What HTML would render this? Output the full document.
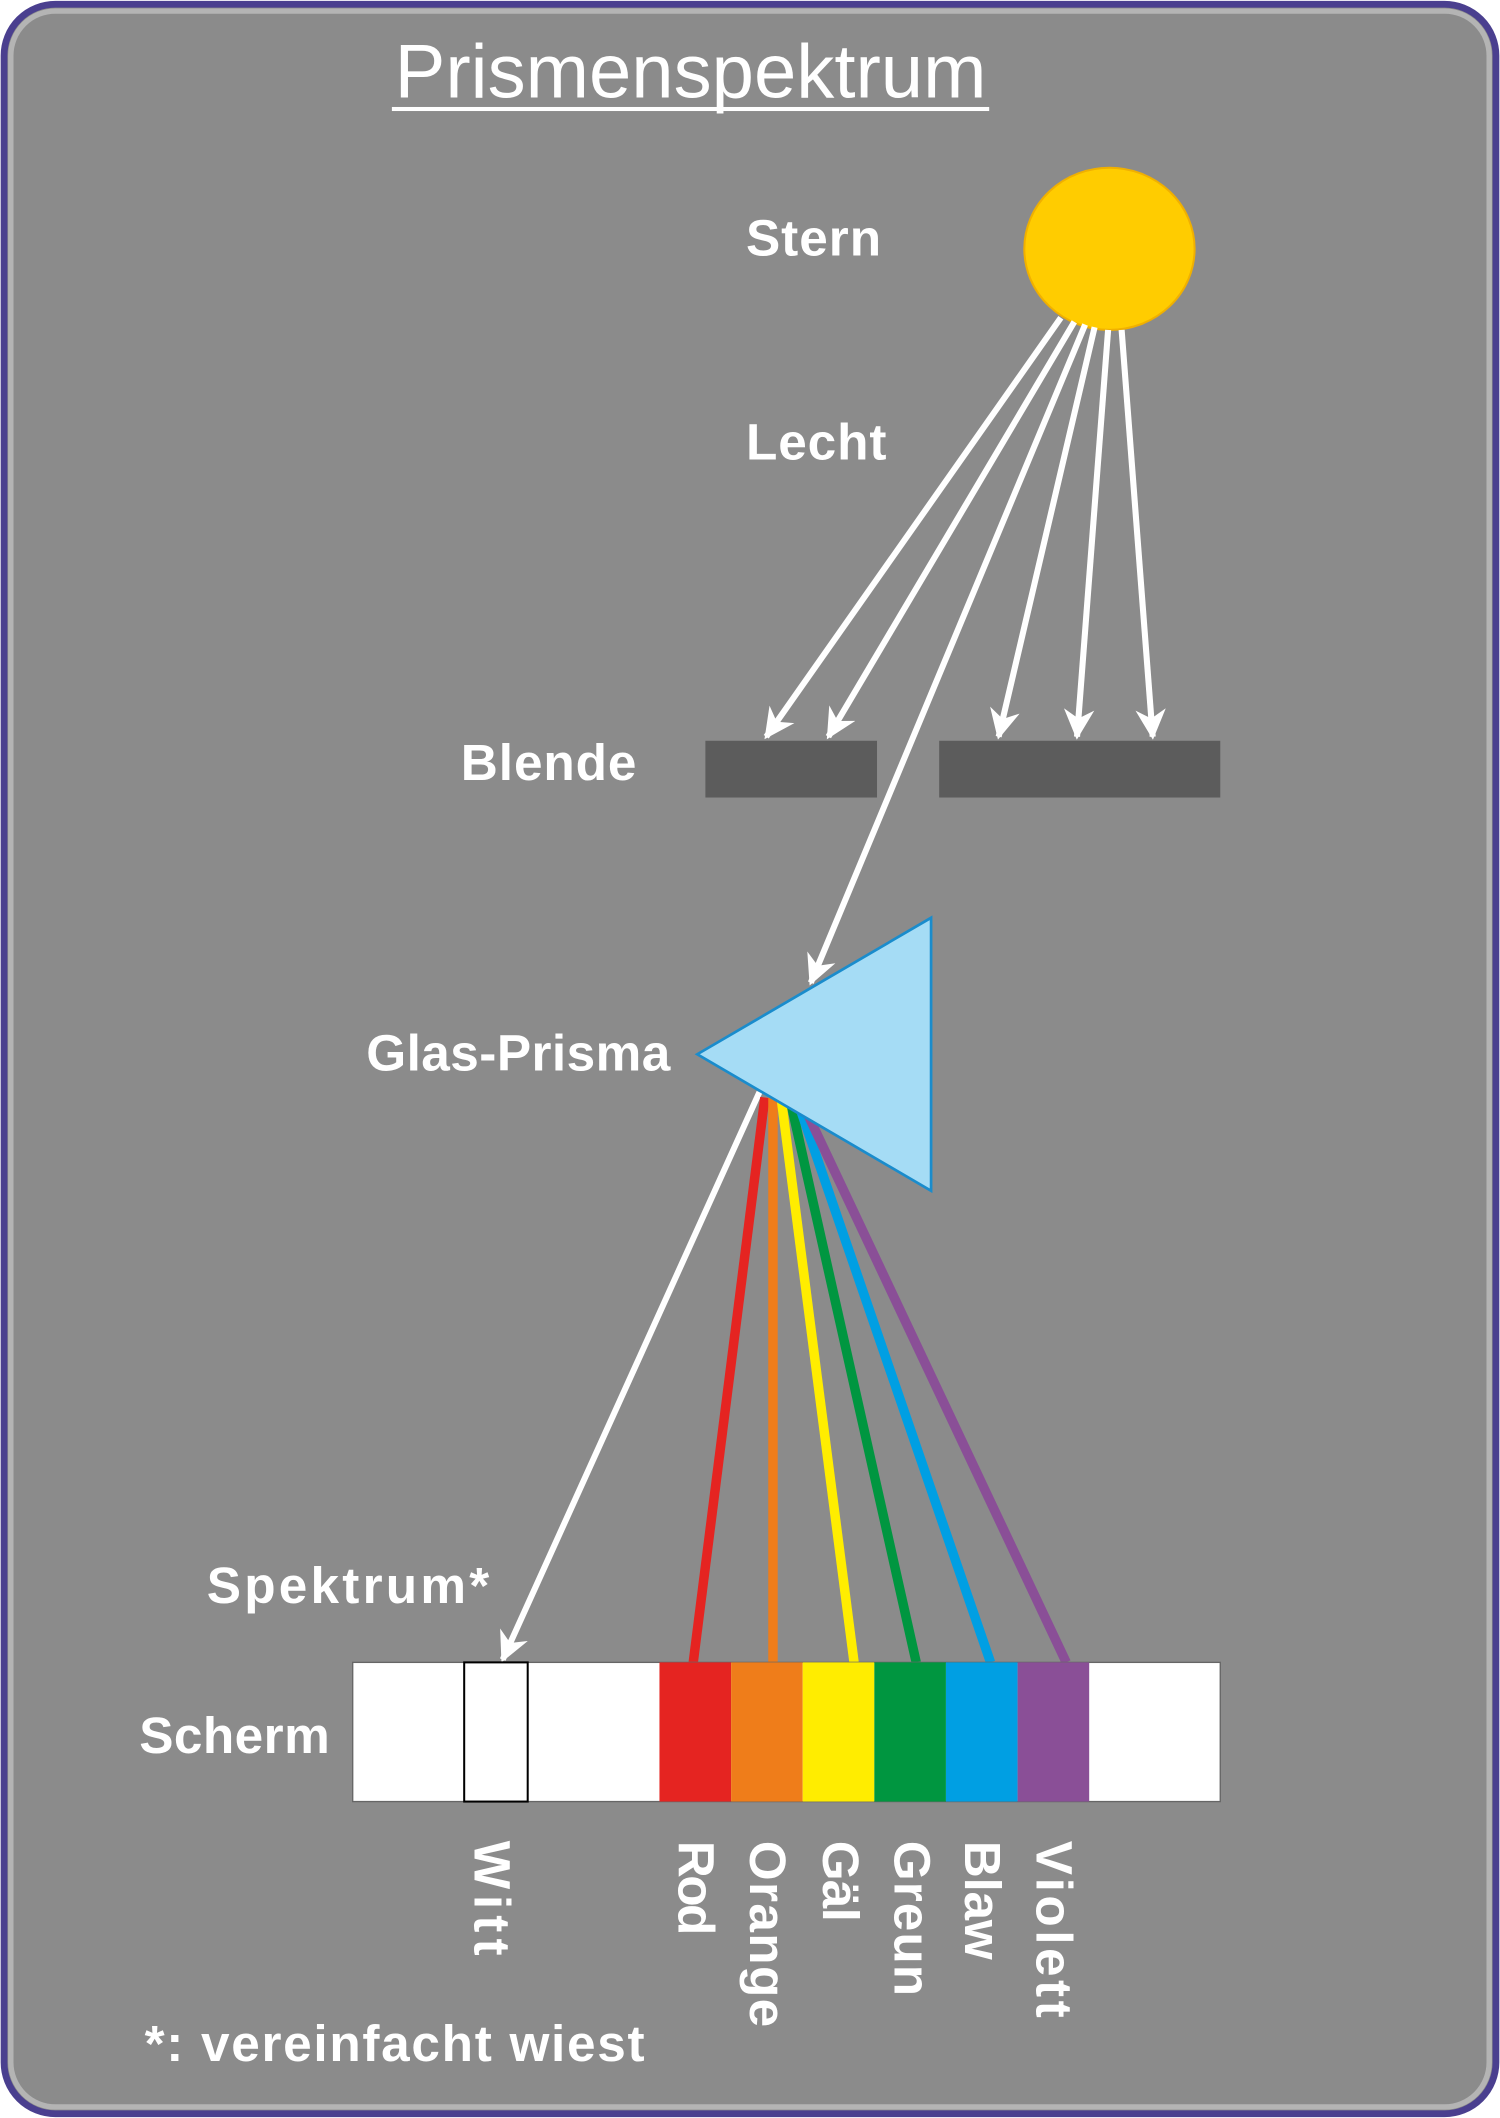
<!DOCTYPE html>
<html><head><meta charset="utf-8"><style>html,body{margin:0;padding:0;background:#fff}svg{display:block}</style></head><body>
<svg width="1500" height="2118" viewBox="0 0 1110 1567" xmlns="http://www.w3.org/2000/svg">
<defs>
<marker id="a" viewBox="0 0 10 10" refX="9" refY="5" markerWidth="5" markerHeight="5" orient="auto" markerUnits="strokeWidth">
<path d="M0,0 L10,5 L0,10 L3,5 z" fill="#fff"/></marker>
</defs>
<rect x="0" y="0" width="1110" height="1567" fill="#fff"/>
<rect x="3" y="3" width="1104" height="1561" rx="38" fill="#8b8b8b" stroke="#4a3f8f" stroke-width="5"/>
<rect x="8" y="8" width="1094" height="1551" rx="33" fill="none" stroke="#b4b4b4" stroke-width="4"/>
<g font-family="Liberation Sans, sans-serif" fill="#fff">
<text x="292" y="72" font-size="56" textLength="438" lengthAdjust="spacingAndGlyphs">Prismenspektrum</text>
<rect x="290" y="79" width="442" height="3"/>
<g font-weight="bold" font-size="38" lengthAdjust="spacingAndGlyphs">
<text x="552" y="189" textLength="100">Stern</text>
<text x="552" y="340" textLength="104">Lecht</text>
<text x="341" y="577" textLength="130">Blende</text>
<text x="271" y="792" textLength="225">Glas-Prisma</text>
<text x="153" y="1186" textLength="209">Spektrum*</text>
<text x="103" y="1297" textLength="141">Scherm</text>
<text x="107" y="1525" textLength="370">*: vereinfacht wiest</text>
</g>
</g>
<ellipse cx="821" cy="184" rx="63" ry="60" fill="#ffcc00" stroke="#f0b000" stroke-width="1.5"/>
<g stroke="#fff" stroke-width="4.5" fill="none" marker-end="url(#a)">
<line x1="785" y1="235" x2="567" y2="545"/>
<line x1="795" y1="238" x2="613" y2="545"/>
<line x1="803" y1="240" x2="600" y2="727"/>
<line x1="810" y1="242" x2="739" y2="545"/>
<line x1="820" y1="244" x2="797" y2="545"/>
<line x1="830" y1="244" x2="853" y2="545"/>
<line x1="562" y1="808" x2="372" y2="1228"/>
</g>
<rect x="522" y="548" width="127" height="42" fill="#5c5c5c"/>
<rect x="695" y="548" width="208" height="42" fill="#5c5c5c"/>
<g stroke-width="7">
<line x1="566" y1="812" x2="513" y2="1230" stroke="#e52421"/>
<line x1="572" y1="812" x2="572" y2="1230" stroke="#ef7d1a"/>
<line x1="578" y1="812" x2="632" y2="1230" stroke="#ffed00"/>
<line x1="585" y1="815" x2="678" y2="1230" stroke="#009640"/>
<line x1="592" y1="820" x2="733" y2="1230" stroke="#009fe3"/>
<line x1="598" y1="825" x2="789" y2="1230" stroke="#8a4f97"/>
</g>
<polygon points="516,780 689,679 689,881" fill="#a5dcf5" stroke="#1a8ccc" stroke-width="2"/>
<rect x="261" y="1230" width="642" height="103" fill="#fff" stroke="#666" stroke-width="1"/>
<rect x="343.5" y="1230" width="47" height="103" fill="#fff" stroke="#000" stroke-width="1.5"/>
<rect x="488" y="1230" width="53" height="103" fill="#e52421"/>
<rect x="541" y="1230" width="53" height="103" fill="#ef7d1a"/>
<rect x="594" y="1230" width="53" height="103" fill="#ffed00"/>
<rect x="647" y="1230" width="53" height="103" fill="#009640"/>
<rect x="700" y="1230" width="53" height="103" fill="#009fe3"/>
<rect x="753" y="1230" width="53" height="103" fill="#8a4f97"/>
<g font-family="Liberation Sans, sans-serif" font-weight="bold" font-size="38" fill="#fff" lengthAdjust="spacingAndGlyphs">
<text transform="translate(351,1362) rotate(90)" textLength="85">Witt</text>
<text transform="translate(502,1362) rotate(90)" textLength="70">Rod</text>
<text transform="translate(555,1362) rotate(90)" textLength="138">Orange</text>
<text transform="translate(609,1362) rotate(90)" textLength="60">Gäl</text>
<text transform="translate(662,1362) rotate(90)" textLength="115">Greun</text>
<text transform="translate(714,1362) rotate(90)" textLength="88">Blaw</text>
<text transform="translate(767,1362) rotate(90)" textLength="131">Violett</text>
</g>
</svg>
</body></html>
